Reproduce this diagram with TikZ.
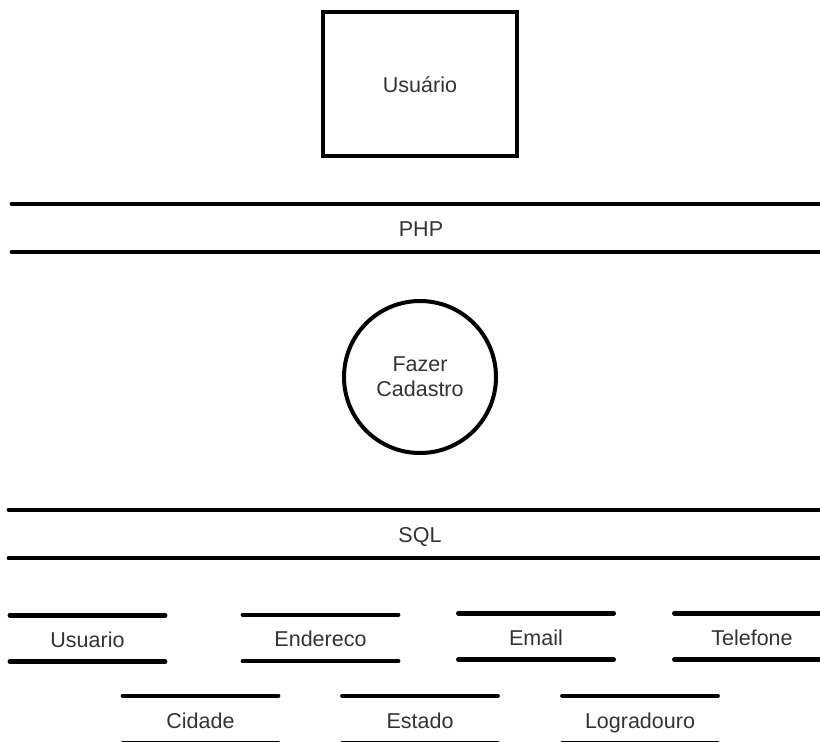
\documentclass[tikz,border=0pt]{standalone}
\usepackage{fontspec}
\setmainfont{Liberation Sans}
\begin{document}
\begin{tikzpicture}[x=1pt,y=-1pt,
  every node/.style={font=\fontsize{21.5}{25}\selectfont, text=black!80, inner sep=0pt,
    text height=18pt, text depth=1pt},
  thick line/.style={line width=4.5pt, line cap=round},
  actor/.style={draw, line width=4.5pt, minimum width=194pt, minimum height=144pt},
  process/.style={draw, circle, line width=4pt, minimum size=152pt, align=center,
    text height=, text depth=},
  layer/.style={minimum height=48pt},
  store/.style={minimum width=155pt, minimum height=46pt}]
\useasboundingbox (0,0) rectangle (820,742);

% user entity
\node[actor] (user) at (420,84) {Usuário};

% PHP layer
\node[layer, minimum width=818pt] (php) at (421,228) {PHP};
\draw[thick line] (php.north west) -- (php.north east);
\draw[thick line] (php.south west) -- (php.south east);

% process
\node[process] (cad) at (420,377) {Fazer\\Cadastro};

% SQL layer
\node[layer, minimum width=822pt] (sql) at (420,534) {SQL};
\draw[thick line] (sql.north west) -- (sql.north east);
\draw[thick line] (sql.south west) -- (sql.south east);

% data stores
\node[store] (t1) at (87.5,638.5) {Usuario};
\node[store] (t2) at (320.5,638) {Endereco};
\node[store] (t3) at (536,636.5) {Email};
\node[store] (t4) at (752,636.5) {Telefone};
\node[store, minimum height=47pt] (t5) at (200.5,719.5) {Cidade};
\node[store, minimum height=47pt] (t6) at (420,719.5) {Estado};
\node[store, minimum height=47pt] (t7) at (640,719.5) {Logradouro};
\foreach \t in {t1,t2,t3,t4,t5,t6,t7}{
  \draw[thick line] (\t.north west) -- (\t.north east);
  \draw[thick line] (\t.south west) -- (\t.south east);
}
\end{tikzpicture}
\end{document}
